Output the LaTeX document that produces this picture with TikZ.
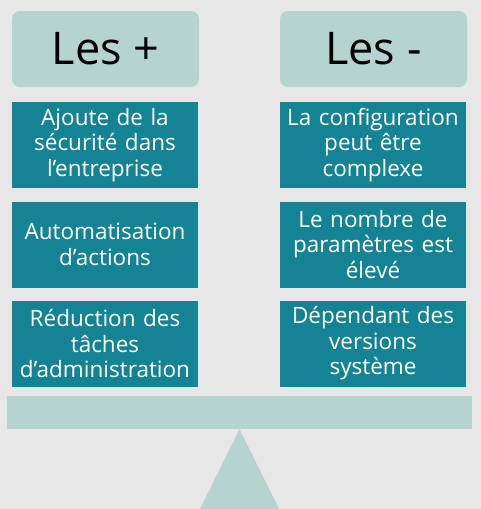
\documentclass[tikz,border=0pt]{standalone}
\usepackage{fontspec}
\setmainfont{Open Sans}
\definecolor{bggray}{RGB}{231,231,231}
\definecolor{headteal}{RGB}{181,212,208}
\definecolor{boxteal}{RGB}{20,132,148}
\begin{document}
\begin{tikzpicture}[x=1pt,y=-1pt,
    head/.style={fill=headteal,rounded corners=8pt,minimum width=187pt,minimum height=76pt,
      inner sep=0pt,font=\fontsize{45}{48}\selectfont},
    item/.style={fill=boxteal,text=white,minimum width=186pt,minimum height=86pt,inner sep=0pt,
      text width=184pt,align=center,font=\fontsize{22.5}{25.5}\selectfont}]
  \fill[bggray] (0,0) rectangle (481,509);
  \useasboundingbox (0,0) rectangle (481,509);
  \draw
    (105.5,49) node[head] (plus){Les +}
    (373.5,49) node[head] (minus){Les -};
  \draw
    (105,145) node[item] (p1){Ajoute de la\\sécurité dans\\l’entreprise}
    (105,244.5) node[item] (p2){Automatisation\\d’actions}
    (105,343.5) node[item] (p3){Réduction des\\tâches\\d’administration}
    (373,145) node[item] (m1){La configuration\\peut être\\complexe}
    (373,244.5) node[item] (m2){Le nombre de\\paramètres est\\élevé}
    (373,343.5) node[item] (m3){Dépendant des\\versions\\système};
  \node[fill=headteal,minimum width=465pt,minimum height=33pt,inner sep=0pt] (bar) at (239.5,412.5) {};
  \fill[headteal] (bar.south) -- (200,509) -- (279,509) -- cycle;
\end{tikzpicture}
\end{document}
